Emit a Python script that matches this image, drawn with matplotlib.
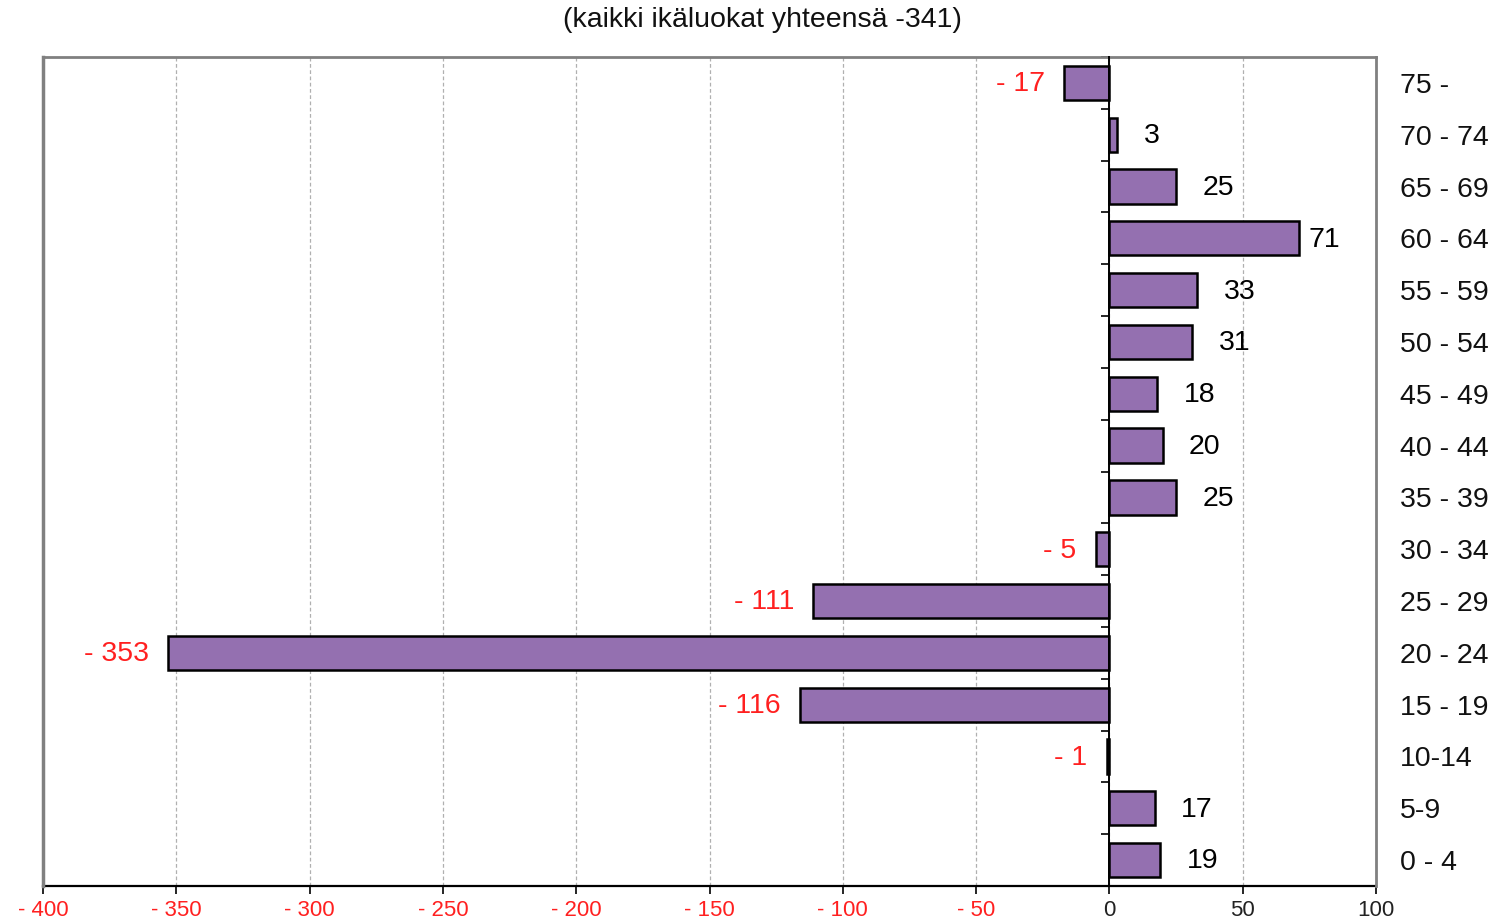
import matplotlib
matplotlib.use("Agg")
import matplotlib.pyplot as plt
import numpy as np

plt.rcParams['font.family'] = ['Liberation Sans', 'DejaVu Sans']

# --- data ---
age_groups = ["0 - 4", "5-9", "10-14", "15 - 19", "20 - 24", "25 - 29", "30 - 34",
              "35 - 39", "40 - 44", "45 - 49", "50 - 54", "55 - 59", "60 - 64",
              "65 - 69", "70 - 74", "75 -"]
net_change = [19, 17, -1, -116, -353, -111, -5, 25, 20, 18, 31, 33, 71, 25, 3, -17]
title_text = "(kaikki ikäluokat yhteensä -341)"

xticks = [-400, -350, -300, -250, -200, -150, -100, -50, 0, 50, 100]

bar_color = "#9470b0"
neg_color = "#ff2020"


def fmt_num(v):
    # negative numbers written as "- 17"
    return f"- {abs(v)}" if v < 0 else f"{v}"


fig = plt.figure(figsize=(14.96, 9.23), dpi=100)
ax = fig.add_axes([43 / 1496, 1 - 886 / 923, (1376 - 43) / 1496, (886 - 57) / 923])

y = np.arange(len(age_groups))
ax.barh(y, net_change, height=0.66, color=bar_color, edgecolor="black",
        linewidth=1.8, zorder=3)

ax.set_xlim(-400, 100)
ax.set_ylim(-0.5, len(age_groups) - 0.5)

# value labels
for yi, v in zip(y, net_change):
    if v < 0:
        ax.annotate(fmt_num(v), (v, yi), xytext=(-14, -1), textcoords="offset points",
                    ha="right", va="center", fontsize=20.5, color=neg_color)
    else:
        off = 7 if v > 60 else 19
        ax.annotate(fmt_num(v), (v, yi), xytext=(off, -1), textcoords="offset points",
                    ha="left", va="center", fontsize=20.5, color="black")

# x axis
ax.set_xticks(xticks)
ax.set_xticklabels([fmt_num(t) for t in xticks], fontsize=16)
ax.tick_params(axis="x", direction="out", length=6, width=1.2, pad=4, colors="black")
for lbl, t in zip(ax.get_xticklabels(), xticks):
    lbl.set_color(neg_color if t < 0 else "#222222")
ax.xaxis.grid(True, linestyle=(0, (3, 2)), color="#b0b0b0", linewidth=0.9, zorder=0)
ax.set_axisbelow(True)

# y axis at zero with ticks between categories
ax.spines["left"].set_position(("data", 0))
ax.spines["left"].set_color("black")
ax.spines["left"].set_linewidth(1.4)
ax.spines["left"].set_zorder(4)
ax.set_yticks([])
ax.set_yticks(np.arange(len(age_groups) + 1) - 0.5, minor=True)
ax.tick_params(axis="y", which="minor", direction="out", length=6, width=1.2,
               color="black", labelleft=False)
ax.spines["bottom"].set_color("black")
ax.spines["bottom"].set_linewidth(1.6)
ax.spines["top"].set_color("#808080")
ax.spines["top"].set_linewidth(2)
ax.spines["right"].set_visible(False)

# gray frame on the right, category labels on the right
ax2 = ax.twinx()
ax2.set_ylim(ax.get_ylim())
ax2.set_yticks(y)
ax2.set_yticklabels(age_groups, fontsize=20.5, color="#111111")
ax2.tick_params(axis="y", length=0, pad=17)
for s in ["top", "bottom", "left"]:
    ax2.spines[s].set_visible(False)
ax2.spines["right"].set_color("#808080")
ax2.spines["right"].set_linewidth(2)

# gray frame on the left
ax3 = ax.twinx()
ax3.set_ylim(ax.get_ylim())
ax3.set_yticks([])
for s in ["top", "bottom", "right"]:
    ax3.spines[s].set_visible(False)
ax3.spines["left"].set_position(("axes", 0))
ax3.spines["left"].set_color("#808080")
ax3.spines["left"].set_linewidth(2.5)

fig.text(762 / 1496, 1 - 20 / 923, title_text, ha="center", va="center",
         fontsize=20.5, color="#111111")

fig.savefig("out.png", dpi=100, facecolor="white")
